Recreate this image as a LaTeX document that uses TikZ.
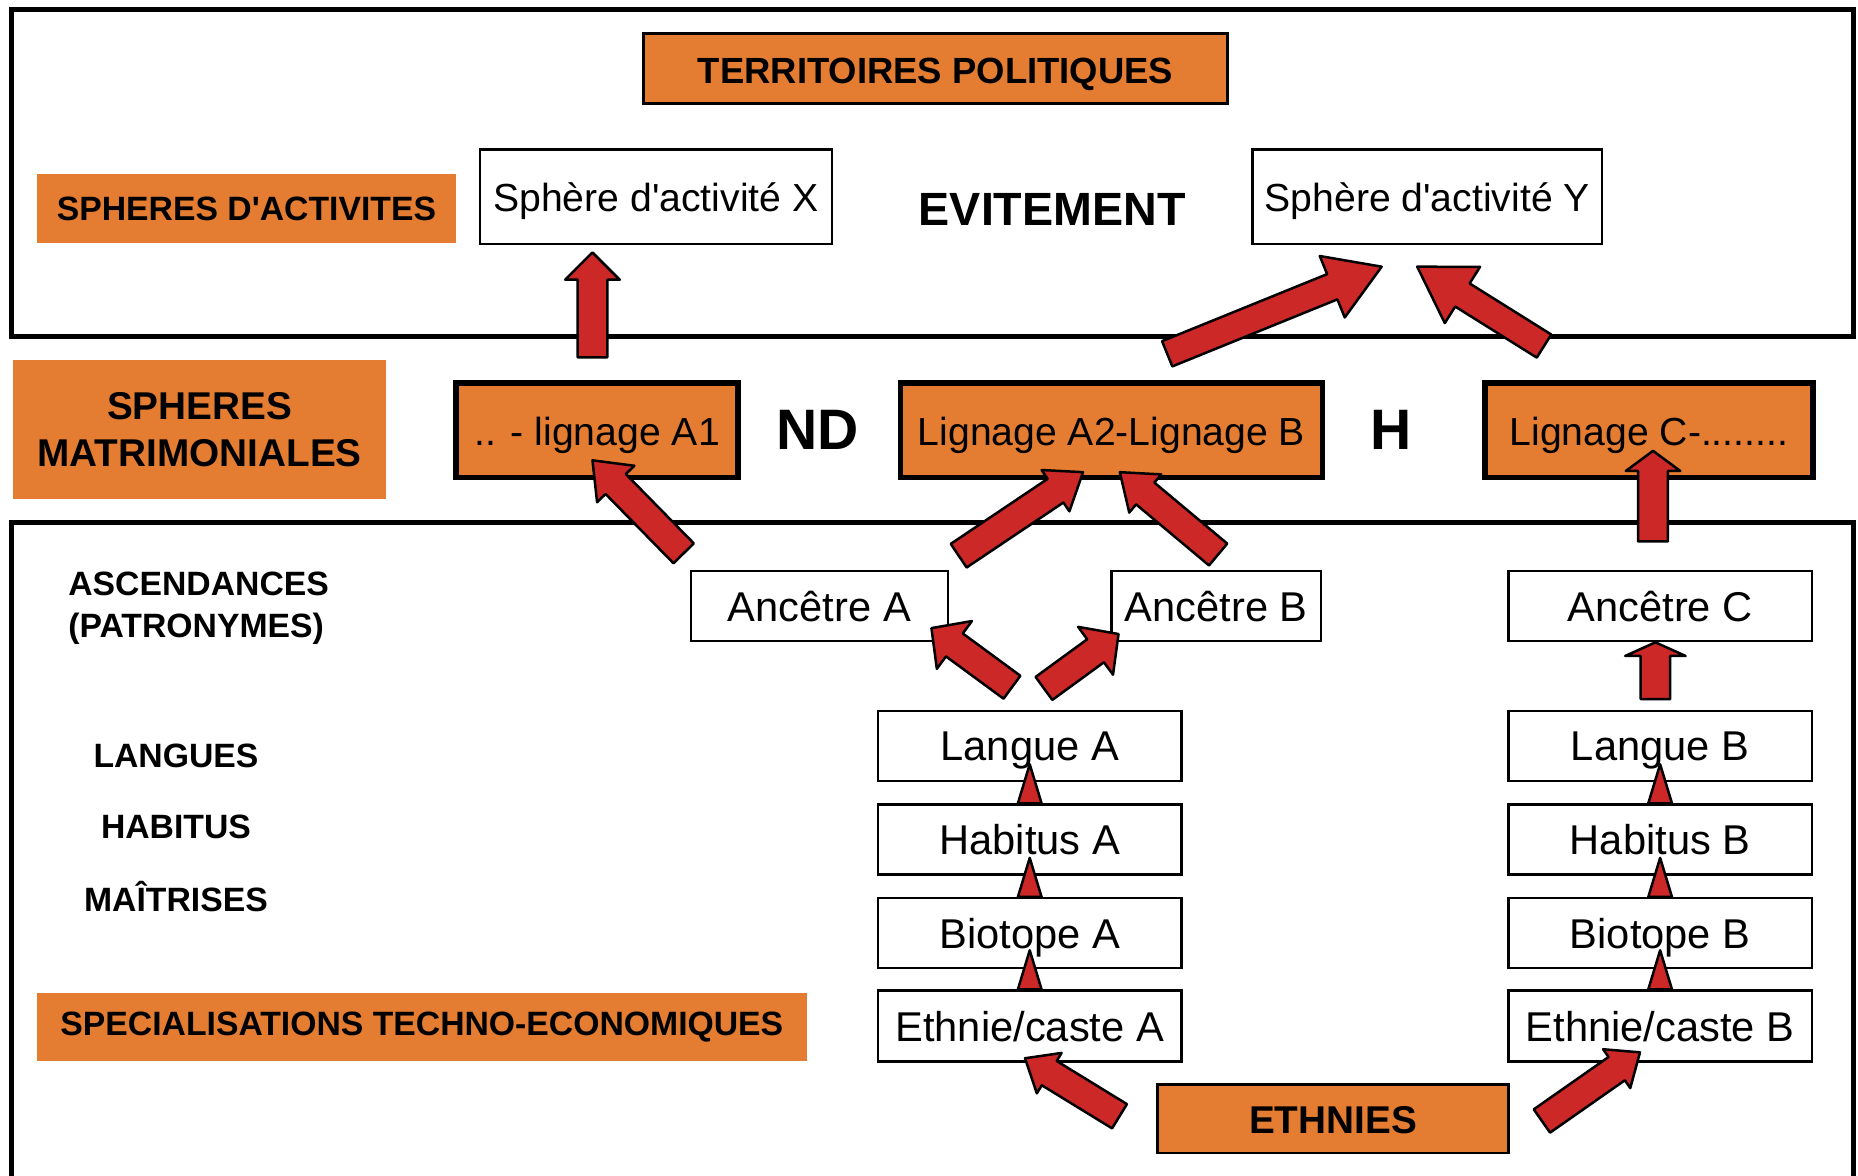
\documentclass[tikz,border=0pt]{standalone}
\usepackage{fontspec}
\setmainfont{Liberation Sans}
\usetikzlibrary{calc}

\definecolor{boxorange}{RGB}{228,125,50}
\definecolor{arrowred}{RGB}{205,40,40}

% fat arrow: start, tip, half shaft width, half head width, head length
\newcommand{\blockarrow}[5]{%
  \coordinate (ba-s) at (#1);
  \coordinate (ba-e) at (#2);
  \coordinate (ba-h) at ($(ba-e)!#5!(ba-s)$);
  \draw[fatarrow] ($(ba-s)!#3!90:(ba-e)$) -- ($(ba-h)!#3!90:(ba-e)$)
    -- ($(ba-h)!#4!90:(ba-e)$) -- (ba-e) -- ($(ba-h)!#4!-90:(ba-e)$)
    -- ($(ba-h)!#3!-90:(ba-e)$) -- ($(ba-s)!#3!-90:(ba-e)$) -- cycle;
}

\begin{document}
\begin{tikzpicture}[
    whitebox/.style={draw=black, line width=0.6pt, fill=white, inner sep=0pt,
        minimum height=0.59cm, text height=0.716em, text depth=0pt,
        font=\fontsize{10}{12}\selectfont},
    sphbox/.style={whitebox, minimum height=0.8cm, font=\fontsize{9.4}{11}\selectfont},
    lignbox/.style={draw=black, line width=1.4pt, fill=boxorange, inner sep=0pt,
        minimum height=0.8cm, text height=0.716em, text depth=0pt,
        font=\fontsize{9.4}{11}\selectfont},
    titlebox/.style={draw=black, line width=0.7pt, fill=boxorange, inner sep=0pt,
        text height=0.716em, text depth=0pt,
        font=\bfseries\fontsize{8.75}{10}\selectfont},
    taglabel/.style={fill=boxorange, inner sep=0pt, align=center},
    rowlabel/.style={font=\bfseries\fontsize{8.1}{10}\selectfont},
    bigmark/.style={font=\bfseries\fontsize{13.7}{16}\selectfont},
    fatarrow/.style={draw=black, fill=arrowred, line width=0.6pt, line join=round},
    framebox/.style={line width=1.2pt}
]
    \useasboundingbox (0,0) rectangle (15.68,-9.92);

    % frames
    \draw[framebox] (0.10,-0.08) rectangle (15.64,-2.84);
    \draw[framebox] (0.10,-9.98) -- (0.10,-4.41) -- (15.64,-4.41) -- (15.64,-9.98);

    % territoires / activites
    \node[titlebox, minimum width=4.93cm, minimum height=0.59cm] (territ) at (7.895,-0.575) {TERRITOIRES POLITIQUES};
    \node[taglabel, minimum width=3.54cm, minimum height=0.58cm,
        font=\bfseries\fontsize{8.1}{10}\selectfont] (actlabel) at (2.08,-1.76) {SPHERES D\textquotesingle ACTIVITES};
    \node[sphbox, minimum width=2.97cm] (sphX) at (5.535,-1.66) {Sphère d\textquotesingle activité X};
    \node[font=\bfseries\fontsize{11.2}{13}\selectfont] (evit) at (8.88,-1.77) {EVITEMENT};
    \node[sphbox, minimum width=2.95cm] (sphY) at (12.045,-1.66) {Sphère d\textquotesingle activité Y};

    % spheres matrimoniales
    \node[taglabel, minimum width=3.15cm, minimum height=1.17cm,
        font=\bfseries\fontsize{9.3}{11.4}\selectfont] (matlabel) at (1.685,-3.625) {SPHERES\\MATRIMONIALES};
    \node[lignbox, minimum width=2.38cm] (ligA1) at (5.04,-3.63) {.. - lignage A1};
    \node[bigmark] (nd) at (6.90,-3.63) {ND};
    \node[lignbox, minimum width=3.56cm] (ligAB) at (9.38,-3.63) {Lignage A2-Lignage B};
    \node[bigmark] (h) at (11.74,-3.63) {H};
    \node[lignbox, minimum width=2.77cm] (ligC) at (13.915,-3.63) {Lignage C-........};

    % row labels
    \node[rowlabel, anchor=west, align=left, inner sep=0pt] (asc) at (0.57,-5.13) {ASCENDANCES\\(PATRONYMES)};
    \node[rowlabel] (langues) at (1.485,-6.38) {LANGUES};
    \node[rowlabel] (habitus) at (1.485,-6.98) {HABITUS};
    \node[rowlabel] (maitrises) at (1.485,-7.57) {MAÎTRISES};
    \node[taglabel, minimum width=6.50cm, minimum height=0.57cm,
        font=\bfseries\fontsize{8.1}{10}\selectfont] (spec) at (3.56,-8.665) {SPECIALISATIONS TECHNO-ECONOMIQUES};

    % ancetres
    \node[whitebox, minimum width=2.17cm] (ancA) at (6.915,-5.115) {Ancêtre A};
    \node[whitebox, minimum width=1.77cm] (ancB) at (10.265,-5.115) {Ancêtre B};
    \node[whitebox, minimum width=2.56cm] (ancC) at (14.01,-5.115) {Ancêtre C};

    % column A
    \node[whitebox, minimum width=2.56cm] (langA) at (8.69,-6.295) {Langue A};
    \node[whitebox, minimum width=2.56cm] (habA) at (8.69,-7.085) {Habitus A};
    \node[whitebox, minimum width=2.56cm] (bioA) at (8.69,-7.875) {Biotope A};
    \node[whitebox, minimum width=2.56cm, minimum height=0.60cm] (ethA) at (8.69,-8.66) {Ethnie/caste A};

    % column B
    \node[whitebox, minimum width=2.56cm] (langB) at (14.01,-6.295) {Langue B};
    \node[whitebox, minimum width=2.56cm] (habB) at (14.01,-7.085) {Habitus B};
    \node[whitebox, minimum width=2.56cm] (bioB) at (14.01,-7.875) {Biotope B};
    \node[whitebox, minimum width=2.56cm, minimum height=0.60cm] (ethB) at (14.01,-8.66) {Ethnie/caste B};

    \node[titlebox, minimum width=2.96cm, minimum height=0.58cm,
        font=\bfseries\fontsize{9.3}{11}\selectfont] (ethnies) at (11.25,-9.44) {ETHNIES};

    % arrows
    \blockarrow{$(ligA1.north)+(-0.04,0.19)$}{$(sphX.south)+(-0.535,-0.06)$}{0.125cm}{0.23cm}{0.23cm}
    \blockarrow{$(ligAB.north)+(0.47,0.22)$}{$(sphY.south)+(-0.385,-0.18)$}{0.115cm}{0.28cm}{0.45cm}
    \blockarrow{$(ligC.north)+(-0.885,0.285)$}{$(sphY.south)+(-0.085,-0.18)$}{0.115cm}{0.28cm}{0.45cm}
    \blockarrow{$(ancA.north west)+(-0.05,0.14)$}{$(ligA1.south)+(-0.04,0.17)$}{0.12cm}{0.22cm}{0.28cm}
    \blockarrow{$(ancA.north east)+(0.08,0.12)$}{$(ligAB.south)+(-0.24,0.07)$}{0.12cm}{0.21cm}{0.28cm}
    \blockarrow{$(ancB.north)+(0.015,0.13)$}{$(ligAB.south)+(0.07,0.07)$}{0.12cm}{0.21cm}{0.28cm}
    \blockarrow{$(ancC.north)+(-0.06,0.24)$}{$(ligC.south)+(0.035,0.25)$}{0.125cm}{0.23cm}{0.17cm}
    \blockarrow{$(langA.north)+(-0.15,0.19)$}{$(ancA.south east)+(-0.15,0.12)$}{0.12cm}{0.25cm}{0.24cm}
    \blockarrow{$(langA.north)+(0.12,0.18)$}{$(ancB.south west)+(0.07,0.07)$}{0.12cm}{0.25cm}{0.24cm}
    \blockarrow{$(langB.north)+(-0.04,0.09)$}{$(ancC.south)+(-0.04,0)$}{0.125cm}{0.255cm}{0.115cm}
    \blockarrow{$(ethnies.west)+(-0.31,0.02)$}{$(ethA.south)+(-0.04,0.04)$}{0.12cm}{0.20cm}{0.24cm}
    \blockarrow{$(ethnies.east)+(0.27,-0.02)$}{$(ethB.south)+(-0.17,0.09)$}{0.12cm}{0.20cm}{0.24cm}

    % small heads between stacked boxes
    \foreach \low/\up in {habA/langA, bioA/habA, ethA/bioA, habB/langB, bioB/habB, ethB/bioB}
        \blockarrow{\low.north}{$(\low.north)!0.33cm!(\up.center)$}{0cm}{0.10cm}{0.33cm};
\end{tikzpicture}
\end{document}
